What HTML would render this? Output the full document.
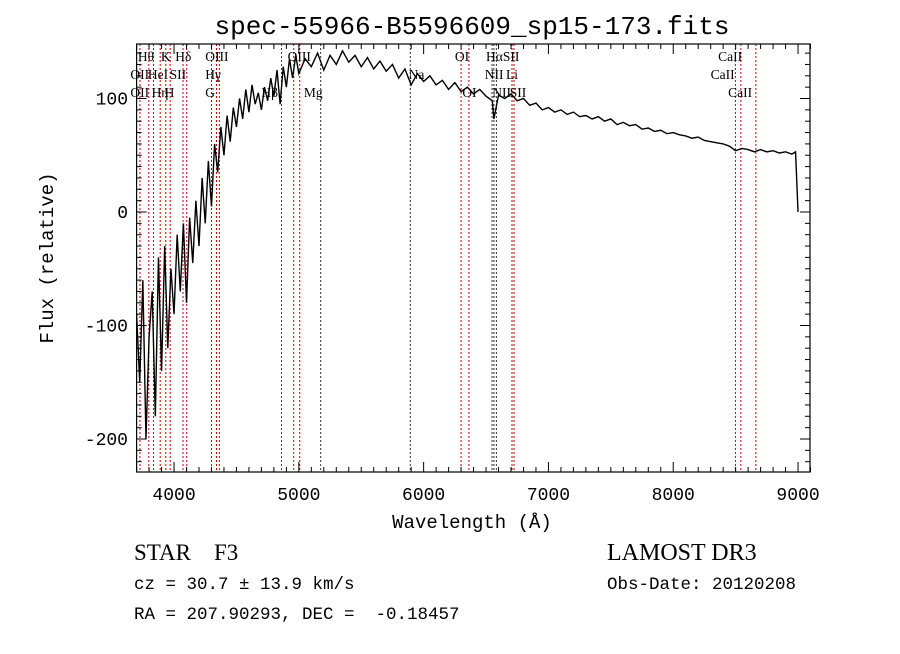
<!DOCTYPE html>
<html><head><meta charset="utf-8"><style>
body{margin:0;background:#fff;}
svg text{font-family:"Liberation Mono",monospace;white-space:pre;}
</style></head><body>
<svg id="chart" width="900" height="649" xmlns="http://www.w3.org/2000/svg" xml:space="preserve">
<rect width="900" height="649" fill="#fff"/>
<text x="472" y="34" font-size="26" text-anchor="middle">spec-55966-B5596609_sp15-173.fits</text>
<g id="lines"></g>
<g id="spec"></g>
<g id="axes"></g>
<text x="472" y="528" font-size="19" text-anchor="middle">Wavelength (Å)</text>
<text transform="translate(53,258) rotate(-90)" font-size="19" text-anchor="middle">Flux (relative)</text>
<text x="134" y="560" font-size="23" style="font-family:'Liberation Serif',serif">STAR    F3</text>
<text x="134" y="589" font-size="17.5">cz = 30.7 ± 13.9 km/s</text>
<text x="134" y="619" font-size="17.5">RA = 207.90293, DEC =  -0.18457</text>
<text x="607" y="560" font-size="24" style="font-family:'Liberation Serif',serif">LAMOST DR3</text>
<text x="607" y="589" font-size="17.5">Obs-Date: 20120208</text>
</svg>
<script>
const blueWave=[3700,3725,3750,3775,3800,3825,3850,3875,3900,3925,3950,3975,4000,4025,4050,4075,4100,4125,4150,4175,4200,4225,4250,4275,4300,4325,4350,4375,4400,4425,4450,4475,4500,4525,4550,4575,4600,4625,4650,4675,4700,4725,4750,4775,4800,4825,4850,4875,4900,4925,4950,4975,5000];
const blueFlux=[-90,-150,-60,-200,-110,-70,-180,-40,-140,-30,-120,-50,-90,-20,-70,-10,-80,-5,-45,10,-30,30,-10,45,5,60,35,75,50,85,62,92,75,100,82,108,88,112,95,105,90,110,98,118,102,125,95,128,110,135,118,138,122];
const redWave=[5050,5100,5150,5200,5250,5300,5350,5400,5450,5500,5550,5600,5650,5700,5750,5800,5850,5900,5950,6000,6050,6100,6150,6200,6250,6300,6350,6400,6450,6500,6550,6563,6600,6650,6700,6750,6800,6850,6900,6950,7000,7050,7100,7150,7200,7250,7300,7350,7400,7450,7500,7550,7600,7650,7700,7750,7800,7850,7900,7950,8000,8050,8100,8150,8200,8250,8300,8350,8400,8450,8500,8550,8600,8650,8700,8750,8800,8850,8900,8950,8980,9000];
const redFlux=[135,128,140,125,138,130,142,132,138,128,136,126,133,124,130,118,126,112,122,115,120,112,116,108,114,106,110,104,108,102,98,82,103,100,104,98,100,94,96,90,92,88,90,86,88,84,85,82,84,80,82,77,79,76,77,73,74,71,72,69,70,68,67,65,66,63,62,61,60,58,54,56,55,53,55,53,54,52,53,51,53,0];
const lineWaves=[3727,3798,3835,3889,3934,3969,4072,4102,4300,4340,4363,4861,4959,5007,5175,5893,6300,6363,6548,6563,6583,6708,6724,8498,8542,8662];
const lineBlack=[0,0,0,0,0,0,0,0,0,0,0,0,0,0,1,1,0,0,1,1,1,0,0,0,0,0];
const labelText=["Hθ","K","Hδ","OIII","OIII","OI","HαSII","CaII","OII","HeI","SII","Hγ","Na","NII","Li","CaII","OII","Hη","H","G","Hβ","Mg","OI","NII","SII","CaII"];
const labelWave=[3710,3895,4010,4250,4910,6250,6500,8360,3650,3790,3965,4250,5880,6490,6660,8300,3650,3820,3925,4250,4700,5040,6310,6550,6690,8440];
const labelRow=[0,0,0,0,0,0,0,0,1,1,1,1,1,1,1,1,2,2,2,2,2,2,2,2,2,2];
const xTicks=[4000,5000,6000,7000,8000,9000];
const yTicks=[-200,-100,0,100];
const L=136.6,R=810,T=44,B=472;
const x=w=>L+(w-3700)*0.1248;
const y=f=>212-f*1.135;
const NS="http://www.w3.org/2000/svg";
function mk(tag,attrs,parent){const e=document.createElementNS(NS,tag);for(const k in attrs)e.setAttribute(k,attrs[k]);parent.appendChild(e);return e;}
const gl=document.getElementById('lines'),gs=document.getElementById('spec'),ga=document.getElementById('axes');
lineWaves.forEach((w,i)=>{const l=mk('line',{x1:x(w),x2:x(w),y1:T,y2:B,stroke:lineBlack[i]?'#333':'#c00000','stroke-width':1,'stroke-dasharray':'2,2'},gl);

});
labelText.forEach((t,i)=>{const e=mk('text',{x:x(labelWave[i]),y:61+labelRow[i]*18,'font-size':13.5,style:"font-family:'Liberation Serif',serif"},gl);e.textContent=t;

});
const wv=blueWave.concat(redWave),fl=blueFlux.concat(redFlux);
const cp=mk('clipPath',{id:'pc'},gs);mk('rect',{x:L,y:T,width:R-L,height:B-T},cp);
const p=mk('polyline',{points:wv.map((w,i)=>x(w)+','+y(fl[i])).join(' '),fill:'none',stroke:'#000','stroke-width':1.4,'clip-path':'url(#pc)'},gs);


const fr=mk('rect',{x:L,y:T,width:R-L,height:B-T,fill:'none',stroke:'#000','stroke-width':1.2},ga);


for(let w=3700;w<=9100;w+=100){const big=w%1000===0,len=big?10:5,xx=x(w);
mk('line',{x1:xx,x2:xx,y1:B,y2:B-len,stroke:'#000'},ga);mk('line',{x1:xx,x2:xx,y1:T,y2:T+len,stroke:'#000'},ga);}
for(let f=-220;f<=140;f+=10){const big=f%100===0,len=big?10:5,yy=y(f);
mk('line',{x1:L,x2:L+len,y1:yy,y2:yy,stroke:'#000'},ga);mk('line',{x1:R,x2:R-len,y1:yy,y2:yy,stroke:'#000'},ga);}
xTicks.forEach(w=>{const t=mk('text',{x:x(w),y:500,'font-size':18,'text-anchor':'middle'},ga);t.textContent=w;

});
yTicks.forEach(f=>{const t=mk('text',{x:128,y:y(f)+6,'font-size':18,'text-anchor':'end'},ga);t.textContent=f;

});
</script>
</body></html>
